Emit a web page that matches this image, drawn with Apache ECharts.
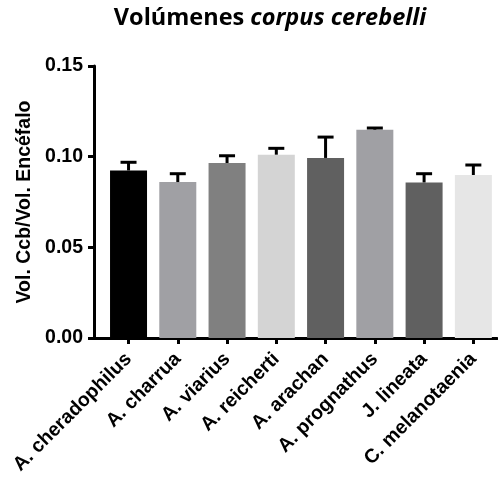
<!DOCTYPE html>
<html>
<head>
<meta charset="utf-8">
<script src="https://cdn.jsdelivr.net/npm/echarts@6/dist/echarts.min.js"></script>
<style>
  html, body { margin: 0; padding: 0; background: #fff; }
  #chart { width: 498px; height: 479px; }
</style>
</head>
<body>
<div id="chart"></div>
<script>
// Species on the x axis
const species = ['A. cheradophilus', 'A. charrua', 'A. viarius', 'A. reicherti',
                 'A. arachan', 'A. prognathus', 'J. lineata', 'C. melanotaenia'];
// Mean cerebellum / brain volume ratio per species
const meanRatio = [0.0924, 0.0860, 0.0965, 0.1011, 0.0993, 0.1149, 0.0858, 0.0899];
// Upper error (SEM) per species
const errRatio = [0.0045, 0.0046, 0.0040, 0.0035, 0.0115, 0.0009, 0.0048, 0.0055];
// Bar fill per species
const barColors = ['#000000', '#a0a0a4', '#808080', '#d4d4d4',
                   '#606060', '#a0a0a4', '#606060', '#e6e6e6'];
// Y axis ticks
const yTicks = [0, 0.05, 0.10, 0.15];

const idx = species.map((_, i) => i);
const FONT = '"Liberation Sans", Arial, sans-serif';

const chart = echarts.init(document.getElementById('chart'), null, { renderer: 'canvas' });

chart.setOption({
  animation: false,
  title: {
    text: '{a|Volúmenes }{b|corpus cerebelli}',
    left: 265,
    top: 1,
    textAlign: 'center',
    textStyle: {
      rich: {
        a: { fontFamily: 'Open Sans', fontWeight: 'bold', fontSize: 23.5, color: '#000' },
        b: { fontFamily: 'Open Sans', fontWeight: 'bold', fontStyle: 'italic', fontSize: 23.5, color: '#000' }
      }
    }
  },
  grid: { left: 94, right: 1, top: 66, bottom: 141, containLabel: false },
  xAxis: {
    type: 'value',
    min: -0.701,
    max: 7.48,
    splitLine: { show: false },
    axisLine: { show: true, onZero: false, lineStyle: { color: '#000', width: 3 } },
    axisTick: { show: true, length: 6, customValues: idx, lineStyle: { color: '#000', width: 3 } },
    axisLabel: {
      customValues: idx,
      rotate: 45,
      margin: 18,
      fontFamily: FONT,
      fontWeight: 'bold',
      fontSize: 19.5,
      color: '#000',
      formatter: v => species[Math.round(v)]
    }
  },
  yAxis: {
    type: 'value',
    min: yTicks[0],
    max: yTicks[yTicks.length - 1],
    interval: 0.05,
    name: 'Vol. Ccb/Vol. Encéfalo',
    nameLocation: 'middle',
    nameRotate: 90,
    nameGap: 50,
    nameTextStyle: { fontFamily: FONT, fontWeight: 'bold', fontSize: 19.5, color: '#000' },
    splitLine: { show: false },
    axisLine: { show: true, onZero: false, lineStyle: { color: '#000', width: 3 } },
    axisTick: { show: true, length: 6, lineStyle: { color: '#000', width: 3 } },
    axisLabel: {
      margin: 11,
      fontFamily: FONT,
      fontWeight: 'bold',
      fontSize: 19.5,
      color: '#000',
      formatter: v => v.toFixed(2)
    }
  },
  series: [
    {
      type: 'bar',
      barWidth: 37,
      data: meanRatio.map((v, i) => ({
        value: [i, v],
        itemStyle: { color: barColors[i] }
      })),
      z: 2
    },
    {
      type: 'custom',
      data: meanRatio.map((v, i) => [i, v, v + errRatio[i]]),
      renderItem: (params, api) => {
        const base = api.coord([api.value(0), api.value(1)]);
        const top = api.coord([api.value(0), api.value(2)]);
        const capHalf = 8;
        const st = { stroke: '#000', lineWidth: 3 };
        return {
          type: 'group',
          children: [
            { type: 'line', shape: { x1: base[0], y1: base[1], x2: top[0], y2: top[1] }, style: st },
            { type: 'line', shape: { x1: top[0] - capHalf, y1: top[1], x2: top[0] + capHalf, y2: top[1] }, style: st }
          ]
        };
      },
      z: 3
    }
  ]
});
</script>
</body>
</html>
